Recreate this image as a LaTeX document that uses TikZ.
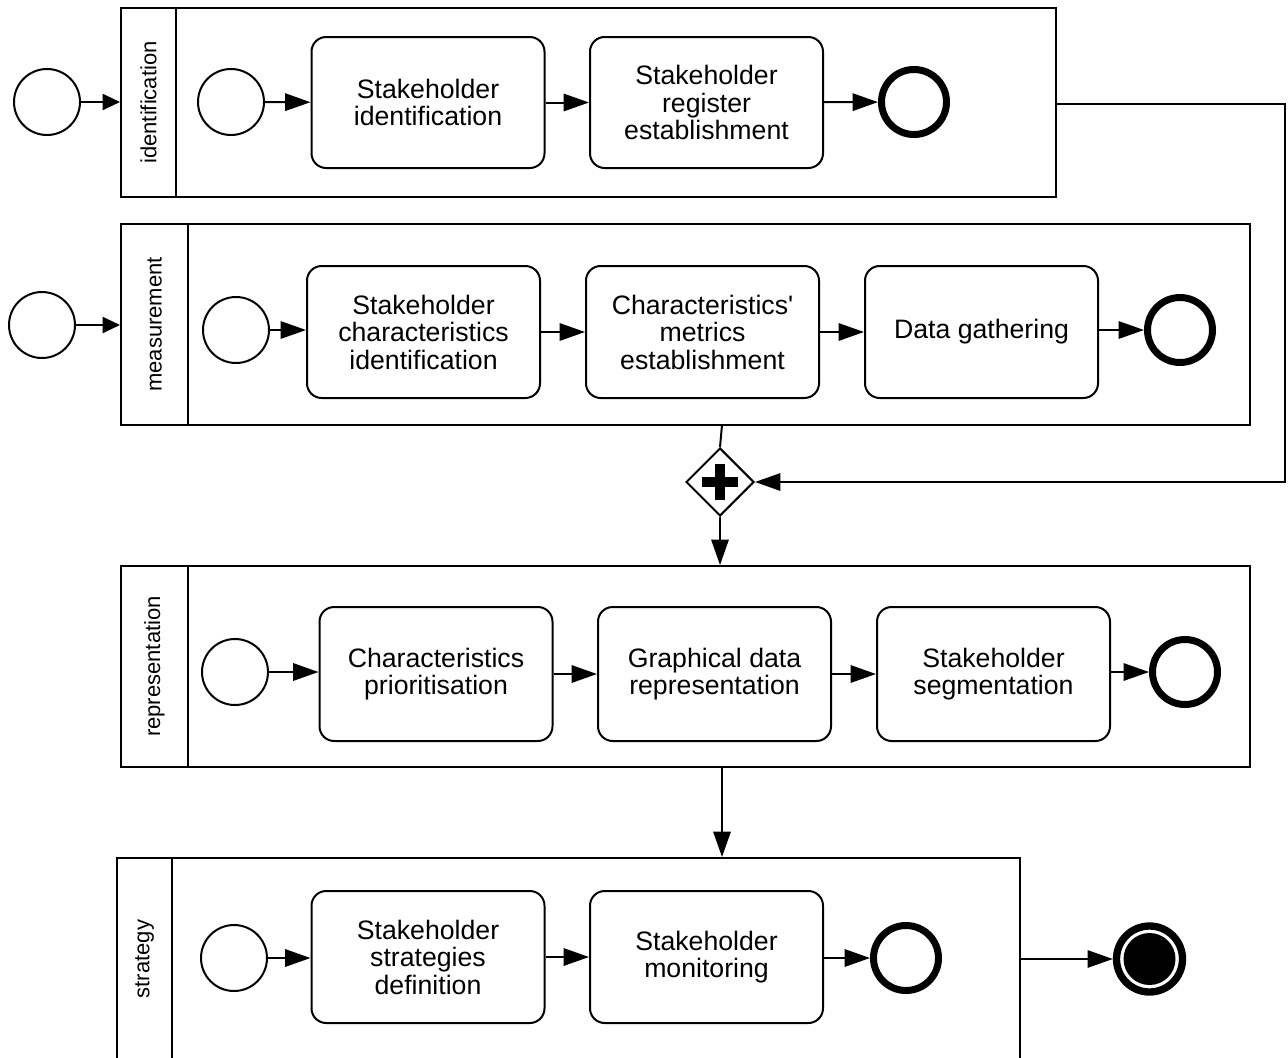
\documentclass[tikz,border=0pt]{standalone}
\usepackage{fontspec}
\setmainfont{Liberation Sans}
\usetikzlibrary{arrows.meta,shapes.geometric}
\begin{document}
\begin{tikzpicture}[x=0.75pt,y=-0.75pt,
  lane/.style={draw, line width=1.5pt, rectangle, inner sep=0pt},
  divider/.style={line width=1.5pt},
  task/.style={draw, line width=1.5pt, rounded corners=11pt, minimum width=174.75pt, align=center, inner sep=0pt, font=\fontsize{20}{20.6}\selectfont},
  startev/.style={draw, circle, line width=1.5pt, minimum size=49.5pt, inner sep=0pt},
  endev/.style={draw, circle, line width=5.25pt, minimum size=48.75pt, inner sep=0pt},
  lanelabel/.style={rotate=90, font=\fontsize{16.5}{18}\selectfont, inner sep=0pt},
  flow/.style={line width=1.5pt, -{Triangle[length=19pt,width=13pt]}},
  flowshort/.style={line width=1.5pt, -{Triangle[length=13pt,width=12pt]}},
  plain/.style={line width=1.5pt},
  gate/.style={draw, diamond, aspect=1, line width=1.5pt, minimum size=51pt, inner sep=0pt}
]
\useasboundingbox (0,0) rectangle (1288,1057);
\clip (0,0) rectangle (1288,1057);

% ---------- lanes ----------
\node[lane, minimum width=701.25pt, minimum height=141.75pt] (L1) at (588.5,102.5) {};
\draw[divider] (176,8) -- (176,197);
\node[lanelabel] (L1lab) at (148.5,102.5) {identification};

\node[lane, minimum width=846.75pt, minimum height=150.75pt] (L2) at (685.5,324.5) {};
\draw[divider] (188,224) -- (188,425);
\node[lanelabel] (L2lab) at (154.5,324.5) {measurement};

\node[lane, minimum width=846.75pt, minimum height=150.75pt] (L3) at (685.5,666.5) {};
\draw[divider] (188,566) -- (188,767);
\node[lanelabel] (L3lab) at (154.5,666.5) {representation};

\node[lane, minimum width=677.25pt, minimum height=156pt] (L4) at (568.5,962) {};
\draw[divider] (172,858) -- (172,1066);
\node[lanelabel] (L4lab) at (144.5,959) {strategy};

% ---------- lane 1 ----------
\node[startev] (S0) at (47,102) {};
\node[startev] (S1) at (231,102) {};
\node[task, minimum height=98.25pt] (T11) at (428,102.5) {Stakeholder\\identification};
\node[task, minimum height=98.25pt] (T12) at (706.5,102.5) {Stakeholder\\register\\establishment};
\node[endev] (E1) at (914,102) {};

% ---------- lane 2 ----------
\node[startev] (S2o) at (42,325) {};
\node[startev] (S2) at (236,330) {};
\node[task, minimum height=99pt] (T21) at (423.5,332) {Stakeholder\\characteristics\\identification};
\node[task, minimum height=99pt] (T22) at (702.5,332) {Characteristics\textquotesingle\\metrics\\establishment};
\node[task, minimum height=99pt] (T23) at (981.5,332) {Data gathering};
\node[endev] (E2) at (1180,330) {};

% ---------- gateway ----------
\node[gate] (G) at (720,482) {};
\draw[line width=7.5pt] (702,482) -- (738,482);
\draw[line width=7.5pt] (720,464) -- (720,500);

% ---------- lane 3 ----------
\node[startev] (S3) at (235,672) {};
\node[task, minimum height=100.5pt] (T31) at (436,674) {Characteristics\\prioritisation};
\node[task, minimum height=100.5pt] (T32) at (714.5,674) {Graphical data\\representation};
\node[task, minimum height=100.5pt] (T33) at (993.5,674) {Stakeholder\\segmentation};
\node[endev] (E3) at (1185,672) {};

% ---------- lane 4 ----------
\node[startev] (S4) at (234,958) {};
\node[task, minimum height=99pt] (T41) at (428,957) {Stakeholder\\strategies\\definition};
\node[task, minimum height=99pt] (T42) at (706.5,957) {Stakeholder\\monitoring};
\node[endev] (E4) at (906,958) {};

% final end event
\node[draw, circle, line width=5.5pt, minimum size=49.5pt, inner sep=0pt] (EF) at (1149.5,959) {};
\node[fill=black, circle, minimum size=39pt, inner sep=0pt] (EFin) at (EF.center) {};

% ---------- connectors ----------
\draw[flowshort] (S0) -- (S0 -| L1.west);
\draw[flow] (S1) -- (T11);
\draw[flow] (T11) -- (T12);
\draw[flow] (T12) -- (E1);

\draw[flowshort] (S2o) -- (S2o -| L2.west);
\draw[flow] (S2) -- (S2 -| T21.west);
\draw[flow] (T21) -- (T22);
\draw[flow] (T22) -- (T23);
\draw[flow] (T23.east |- E2) -- (E2);

\coordinate (R1) at (1285,104);
\coordinate (R2) at (1285,482);
\draw[flow] (L1.east |- R1) -- (R1) -- (R2) -- (G.east);
\coordinate (Gin) at (722,425);
\draw[plain] (Gin) -- (G.north);
\draw[flow] (G.south) -- (G.south |- L3.north);

\draw[flow] (S3) -- (S3 -| T31.west);
\draw[flow] (T31) -- (T32);
\draw[flow] (T32) -- (T33);
\draw[flow] (T33.east |- E3) -- (E3);

\coordinate (L3out) at (722,767);
\draw[flow] (L3out) -- (L3out |- L4.north);

\draw[flow] (S4) -- (S4 -| T41.west);
\draw[flow] (T41) -- (T42);
\draw[flow] (T42.east |- E4) -- (E4);
\draw[flow] (L4.east |- EF) -- (EF);
\end{tikzpicture}
\end{document}
